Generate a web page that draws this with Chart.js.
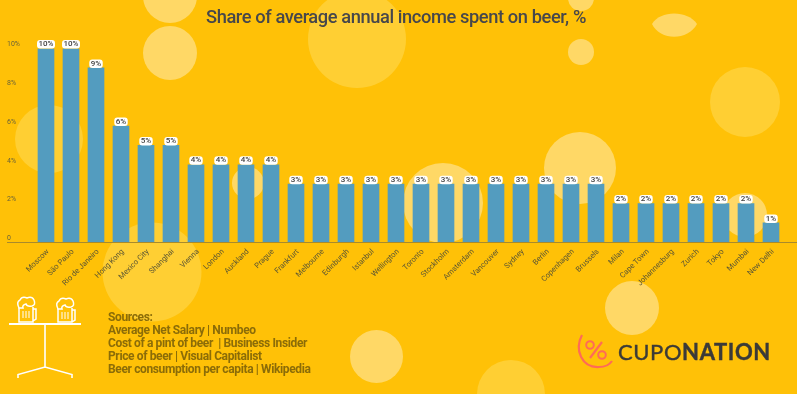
<!DOCTYPE html>
<html>
<head>
<meta charset="utf-8">
<title>Share of average annual income spent on beer</title>
<script src="https://cdn.jsdelivr.net/npm/chart.js@4"></script>
<style>
    html, body { margin: 0; padding: 0; background: #ffc107; }
    #wrap { position: relative; width: 797px; height: 394px; overflow: hidden; font-family: Roboto, sans-serif; }
    #deco, #chartBox { position: absolute; left: 0; top: 0; width: 797px; height: 394px; }
    #title { position: absolute; left: 206px; top: 6px; font-size: 18.3px; font-weight: 500; letter-spacing: -0.41px; color: #47474b; white-space: nowrap; }
    #sources { position: absolute; left: 108px; top: 311px; font-size: 12px; line-height: 13px; font-weight: 700; letter-spacing: -0.37px; color: #8b6c08; white-space: nowrap; }
    #brand { position: absolute; left: 618px; top: 339px; font-family: Lato, sans-serif; font-size: 22px; line-height: 26px; color: #3b3a38; letter-spacing: 0.6px; -webkit-text-stroke: 0.4px #3b3a38; white-space: nowrap; }
    #brand b { font-weight: 700; }
</style>
</head>
<body>
<div id="wrap">
    <svg id="deco" viewBox="0 0 797 394">
        <g fill="#ffd866">
            <circle cx="170" cy="-4" r="27"/>
            <circle cx="170" cy="53" r="27"/>
            <circle cx="248" cy="183" r="16"/>
            <circle cx="443" cy="203" r="40"/>
            <circle cx="580" cy="168" r="36"/>
            <circle cx="745" cy="215" r="22"/>
            <circle cx="581" cy="-2" r="13"/>
            <circle cx="581" cy="52" r="13"/>
            <circle cx="632" cy="308" r="27"/>
            <circle cx="376.5" cy="356.5" r="26.5"/>
            <path d="M652 24 C660 10 688 10 697 24 C688 41 660 41 652 24 Z"/>
        </g>
        <g fill="#ffcf33">
            <circle cx="357" cy="39" r="49"/>
            <circle cx="49" cy="139" r="34"/>
            <circle cx="152" cy="272" r="49.5"/>
            <circle cx="745" cy="102" r="35"/>
            <circle cx="511" cy="394" r="34"/>
        </g>
        <!-- table and mugs -->
        <g fill="none" stroke="#fff" stroke-width="1.5">
            <path d="M45 325 V367 M18 378 V374.5 L45 367 L72 374.5 V378" stroke-width="1.6"/>
            <path d="M19 307 V322 H33 V307 M33 309 H36 V319 L33 321"/>
            <path d="M23 311 V318 M26 311 V318 M29 311 V318" stroke-width="1"/>
            <path d="M19 308 Q16 302 20 300 Q22 296 27 298 Q32 296 34 300 Q36 305 32 306 Q27 307 26 304 Q22 305 23 308 Z" fill="#ffc107"/>
            <path d="M58 308 V322 H72 V308 M72 310 H75 V320 L72 322"/>
            <path d="M62 312 V319 M65 312 V319 M68 312 V319" stroke-width="1"/>
            <path d="M58 309 Q55 303 59 301 Q61 297 66 299 Q71 297 73 301 Q75 306 71 307 Q66 308 65 305 Q61 306 62 309 Z" fill="#ffc107"/>
        </g>
        <rect x="9" y="323" width="72" height="2" fill="#fff"/>
        <!-- logo mark -->
        <g fill="none" stroke="#ff6b57" stroke-width="2">
            <path d="M582 335 C574 350 582 368 599 367 C605 367 610 364 612 361" stroke-width="2.2"/>
            <circle cx="590" cy="345" r="3.8"/>
            <circle cx="602" cy="355" r="3.8"/>
            <path d="M590 358 L602 342" stroke-width="2.2"/>
        </g>
    </svg>
    <div id="chartBox"><canvas id="beerChart"></canvas></div>
    <div id="title">Share of average annual income spent on beer, %</div>
    <div id="sources">Sources:<br>Average Net Salary | Numbeo<br>Cost of a pint of beer &nbsp;| Business Insider<br>Price of beer | Visual Capitalist<br>Beer consumption per capita | Wikipedia</div>
    <div id="brand">CUPO<b>NATION</b></div>
</div>
<script>
const cities = ['Moscow', 'São Paulo', 'Rio de Janeiro', 'Hong Kong', 'Mexico City', 'Shanghai', 'Vienna', 'London', 'Auckland', 'Prague',
    'Frankfurt', 'Melbourne', 'Edinburgh', 'Istanbul', 'Wellington', 'Toronto', 'Stockholm', 'Amsterdam', 'Vancouver', 'Sydney',
    'Berlin', 'Copenhagen', 'Brussels', 'Milan', 'Cape Town', 'Johannesburg', 'Zurich', 'Tokyo', 'Mumbai', 'New Delhi'];
const incomeShare = [10, 10, 9, 6, 5, 5, 4, 4, 4, 4,
    3, 3, 3, 3, 3, 3, 3, 3, 3, 3,
    3, 3, 3, 2, 2, 2, 2, 2, 2, 1];

// white pill labels on top of the bars, and the long baseline
const barLabels = {
    id: 'barLabels',
    afterDatasetsDraw(chart) {
        const ctx = chart.ctx;
        const y0 = Math.round(chart.scales.y.getPixelForValue(0)) + 0.5;
        ctx.save();
        ctx.strokeStyle = '#a88a2c';
        ctx.lineWidth = 1;
        ctx.beginPath();
        ctx.moveTo(7, y0);
        ctx.lineTo(chart.width, y0);
        ctx.stroke();

        ctx.font = '500 8px Roboto';
        ctx.textAlign = 'center';
        ctx.textBaseline = 'middle';
        chart.getDatasetMeta(0).data.forEach(function(bar, i) {
            const text = incomeShare[i] + '%';
            const w = ctx.measureText(text).width + 3;
            ctx.fillStyle = '#fff';
            ctx.beginPath();
            ctx.roundRect(bar.x - w / 2, bar.y - 8.5, w, 8.5, 3);
            ctx.fill();
            ctx.fillStyle = '#3f3f3f';
            ctx.fillText(text, bar.x, bar.y - 4.3);
        });
        ctx.restore();
    }
};

new Chart(document.getElementById('beerChart'), {
    type: 'bar',
    data: {
        labels: cities,
        datasets: [{
            data: incomeShare,
            backgroundColor: '#539cbf',
            barThickness: 16
        }]
    },
    plugins: [barLabels],
    options: {
        responsive: true,
        maintainAspectRatio: false,
        animation: false,
        layout: { padding: { left: 7, right: 13.5, top: 48.5 } },
        plugins: { legend: { display: false }, tooltip: { enabled: false } },
        scales: {
            x: {
                afterFit: function(scale) { scale.height = 151.7; },
                grid: { display: false },
                border: { display: false },
                ticks: {
                    autoSkip: false,
                    minRotation: 45,
                    maxRotation: 45,
                    padding: -3,
                    labelOffset: 2,
                    color: '#5a5534',
                    font: { family: 'Roboto', size: 7.6 }
                }
            },
            y: {
                min: 0,
                max: 10,
                afterFit: function(scale) { scale.width = 26.5; },
                grid: { display: false },
                border: { display: false },
                ticks: {
                    stepSize: 2,
                    crossAlign: 'far',
                    labelOffset: -4,
                    color: '#6b6338',
                    font: { family: 'Roboto', size: 7 },
                    callback: function(v) { return v === 0 ? '0' : v + '%'; }
                }
            }
        }
    }
});
</script>
</body>
</html>
